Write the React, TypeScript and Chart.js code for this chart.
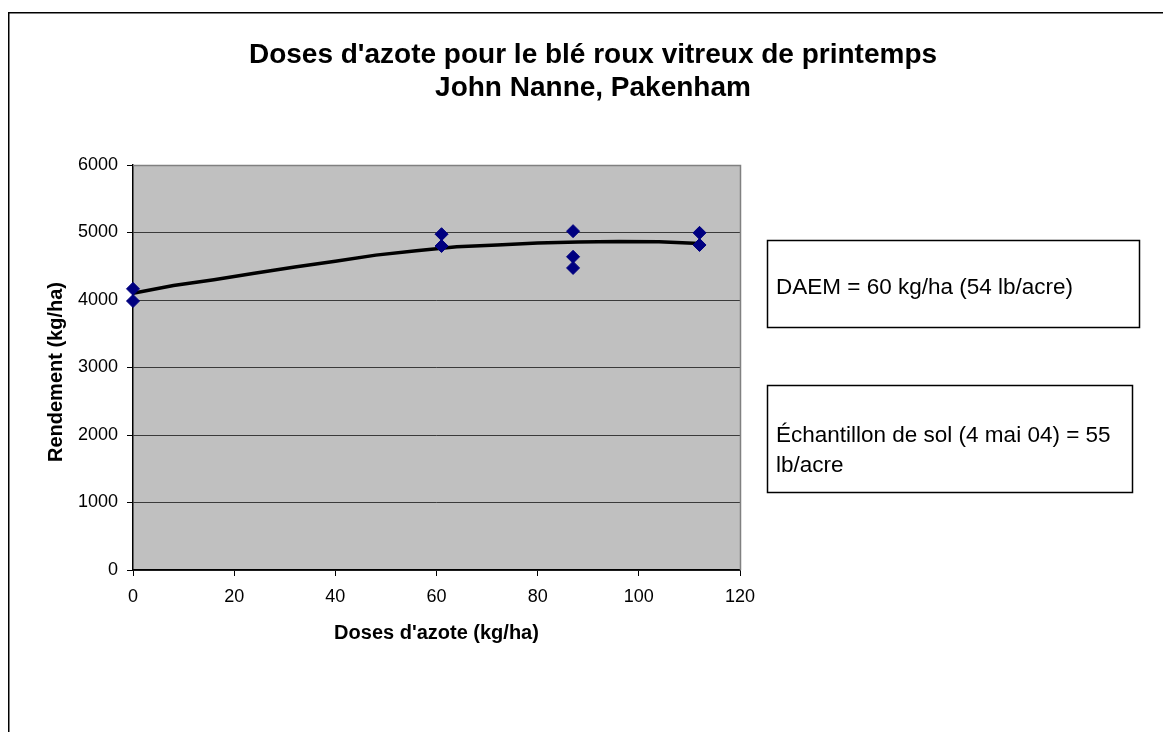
import { useEffect, useRef } from "react";
import { Chart, registerables } from "chart.js";

Chart.register(...registerables);

const FONT = "'Liberation Sans', Arial, Helvetica, sans-serif";

const titleLines = ["Doses d'azote pour le blé roux vitreux de printemps", "John Nanne, Pakenham"];
const xAxisTitle = "Doses d'azote (kg/ha)";
const yAxisTitle = "Rendement (kg/ha)";
const noteDaem = ["DAEM = 60 kg/ha (54 lb/acre)"];
const noteSoil = ["Échantillon de sol (4 mai 04) = 55", "lb/acre"];

// observed yields
const doseX = [0, 0, 61, 61, 87, 87, 87, 112, 112];
const yieldY = [4165, 3985, 4975, 4800, 5020, 4640, 4475, 4995, 4815];

// fitted response curve
const trendX = [0, 8, 16, 24, 32, 40, 48, 56, 64, 72, 80, 88, 96, 104, 112];
const trendY = [4100, 4215, 4300, 4395, 4490, 4575, 4665, 4730, 4790, 4815, 4845, 4860, 4868, 4862, 4838];

const xMin = 0;
const xMax = 120;
const xStep = 20;
const yMin = 0;
const yMax = 6000;
const yStep = 1000;

const decor = {
  id: "decor",
  beforeDraw(chart: any) {
    const { ctx, chartArea: a } = chart;
    ctx.save();
    ctx.fillStyle = "#ffffff";
    ctx.fillRect(0, 0, chart.width, chart.height);
    ctx.fillStyle = "#c0c0c0";
    ctx.fillRect(a.left, a.top, a.right - a.left, a.bottom - a.top);
    ctx.restore();
  },
  beforeDatasetsDraw(chart: any) {
    const { ctx, chartArea: a } = chart;
    ctx.save();
    ctx.strokeStyle = "#808080";
    ctx.lineWidth = 1.5;
    ctx.beginPath();
    ctx.moveTo(a.left, a.top + 0.5);
    ctx.lineTo(a.right + 0.5, a.top + 0.5);
    ctx.lineTo(a.right + 0.5, a.bottom);
    ctx.stroke();
    ctx.restore();
  },
  afterDraw(chart: any) {
    const { ctx, chartArea: a } = chart;
    ctx.save();
    // outer frame
    ctx.strokeStyle = "#000";
    ctx.lineWidth = 1.5;
    ctx.beginPath();
    ctx.moveTo(8.75, chart.height + 2);
    ctx.lineTo(8.75, 12.75);
    ctx.lineTo(chart.width + 2, 12.75);
    ctx.stroke();

    // title
    ctx.fillStyle = "#000";
    ctx.textAlign = "center";
    ctx.textBaseline = "middle";
    ctx.font = `bold 28px ${FONT}`;
    ctx.fillText(titleLines[0], 593, 55);
    ctx.fillText(titleLines[1], 593, 88);

    // axis titles
    ctx.font = `bold 20px ${FONT}`;
    ctx.fillText(xAxisTitle, (a.left + a.right) / 2, 633);
    ctx.save();
    ctx.translate(56, 372);
    ctx.rotate(-Math.PI / 2);
    ctx.fillText(yAxisTitle, 0, 0);
    ctx.restore();

    // note boxes
    ctx.lineWidth = 1.5;
    ctx.strokeStyle = "#000";
    ctx.strokeRect(767.5, 240.5, 372, 87);
    ctx.strokeRect(767.5, 385.5, 365, 107);
    ctx.textAlign = "left";
    ctx.font = `22.5px ${FONT}`;
    ctx.fillText(noteDaem[0], 776, 288);
    ctx.fillText(noteSoil[0], 776, 436);
    ctx.fillText(noteSoil[1], 776, 466);
    ctx.restore();
  },
};

export default function App() {
  const ref = useRef<HTMLCanvasElement | null>(null);

  useEffect(() => {
    if (!ref.current) return;
    const scatterData = doseX.map((x, i) => ({ x, y: yieldY[i] }));
    const trendData = trendX.map((x, i) => ({ x, y: trendY[i] }));
    const chart = new Chart(ref.current, {
      type: "scatter",
      data: {
        datasets: [
          {
            label: "Courbe",
            data: trendData,
            showLine: true,
            borderColor: "#000000",
            borderWidth: 3.5,
            pointRadius: 0,
            tension: 0,
            clip: false,
            order: 2,
          } as any,
          {
            label: "Rendement",
            data: scatterData,
            pointStyle: "rectRot",
            pointRadius: 6.5,
            backgroundColor: "#000080",
            borderColor: "#000080",
            borderWidth: 1,
            clip: false,
            order: 1,
          } as any,
        ],
      },
      options: {
        animation: false,
        responsive: false,
        maintainAspectRatio: false,
        events: [],
        layout: { padding: { left: 0, top: 165, right: 423, bottom: 122 } },
        plugins: {
          legend: { display: false },
          title: { display: false },
          tooltip: { enabled: false },
        },
        scales: {
          x: {
            type: "linear",
            min: xMin,
            max: xMax,
            afterFit(scale: any) {
              scale.height = 40;
            },
            ticks: {
              stepSize: xStep,
              padding: 10,
              color: "#000",
              font: { family: FONT, size: 18 },
              callback: (v: any) => String(v),
            },
            grid: {
              drawOnChartArea: false,
              drawTicks: true,
              tickLength: 6,
              tickColor: "#000",
            },
            border: { color: "#000", width: 1.5 },
          },
          y: {
            type: "linear",
            min: yMin,
            max: yMax,
            afterFit(scale: any) {
              scale.width = 133;
            },
            ticks: {
              stepSize: yStep,
              padding: 9,
              color: "#000",
              font: { family: FONT, size: 18 },
              callback: (v: any) => String(v),
            },
            grid: {
              drawOnChartArea: true,
              drawTicks: true,
              tickLength: 6,
              tickColor: "#000",
              color: (c: any) => (c.tick && c.tick.value === yMax ? "#808080" : "#3a3a3a"),
              lineWidth: 1,
            },
            border: { color: "#000", width: 1.5 },
          },
        },
      },
      plugins: [decor],
    });
    return () => chart.destroy();
  }, []);

  return (
    <div style={{ position: "fixed", left: 0, top: 0, width: 1163, height: 732, background: "#fff" }}>
      <canvas ref={ref} width={1163} height={732} style={{ display: "block", width: 1163, height: 732 }} />
    </div>
  );
}
